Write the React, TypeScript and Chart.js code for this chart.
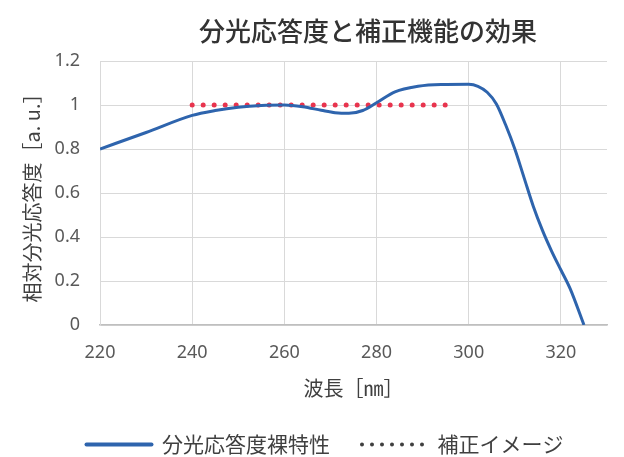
import React, { useEffect, useRef } from "react";
import { Chart, registerables } from "chart.js";

Chart.register(...registerables);

const chartTitle = "分光応答度と補正機能の効果";
const xAxisTitle = "波長［㎚］";
const yAxisTitle = "相対分光応答度［a. u.］";
const seriesNames = ["分光応答度裸特性", "補正イメージ"];

const wavelengths = [220, 230, 240, 245, 250, 255, 260, 264, 268, 271, 274, 277, 280, 284, 289, 294, 300, 302, 304, 306, 308, 310, 312, 314, 316, 318, 320, 322, 325];
const response = [0.8, 0.875, 0.953, 0.975, 0.99, 0.998, 1.0, 0.992, 0.976, 0.965, 0.962, 0.975, 1.01, 1.06, 1.085, 1.093, 1.094, 1.085, 1.058, 1.005, 0.91, 0.8, 0.67, 0.54, 0.43, 0.335, 0.25, 0.165, 0.0];

const correctedWavelengths = [240, 295];
const correctedValues = [1, 1];

const xTicks = [220, 240, 260, 280, 300, 320];
const yTicks = [0, 0.2, 0.4, 0.6, 0.8, 1, 1.2];

const CJK = '"Noto Sans CJK JP", "Noto Sans", sans-serif';
const LATIN = '"Noto Sans", "Noto Sans CJK JP", sans-serif';

const titlePlugin = {
  id: "customTitle",
  afterDraw(chart: any) {
    const ctx = chart.ctx;
    ctx.save();
    ctx.font = `500 26px ${CJK}`;
    ctx.fillStyle = "#333333";
    ctx.textAlign = "center";
    ctx.textBaseline = "middle";
    ctx.fillText(chartTitle, 368, 31);
    ctx.restore();
  },
};

export default function App() {
  const canvasRef = useRef<HTMLCanvasElement | null>(null);

  useEffect(() => {
    if (!canvasRef.current) return;
    const chart = new Chart(canvasRef.current, {
      type: "line",
      data: {
        datasets: [
          {
            label: seriesNames[0],
            data: wavelengths.map((x, i) => ({ x, y: response[i] })),
            borderColor: "#2e64ad",
            borderWidth: 3,
            pointRadius: 0,
            tension: 0.4,
            cubicInterpolationMode: "monotone",
            fill: false,
          },
          {
            label: seriesNames[1],
            data: correctedWavelengths.map((x, i) => ({ x, y: correctedValues[i] })),
            borderColor: "#e8344e",
            borderWidth: 5,
            borderDash: [0, 11],
            borderCapStyle: "round",
            pointRadius: 0,
            fill: false,
          },
        ],
      },
      options: {
        responsive: false,
        animation: false,
        layout: { padding: { left: 43, right: 17, top: 61, bottom: -8 } },
        plugins: {
          title: { display: false },
          tooltip: { enabled: false },
          legend: {
            display: true,
            position: "bottom",
            labels: {
              usePointStyle: true,
              pointStyle: "line",
              pointStyleWidth: 65,
              padding: 32,
              color: "#404040",
              font: { family: CJK, size: 21 },
              generateLabels(c: any) {
                const items = Chart.defaults.plugins.legend.labels.generateLabels(c);
                items[0].strokeStyle = "#2e64ad";
                items[0].lineWidth = 4;
                items[0].lineCap = "round";
                items[0].pointStyle = "line";
                items[1].strokeStyle = "#404040";
                items[1].lineWidth = 4;
                items[1].lineDash = [0, 10];
                items[1].lineCap = "round";
                items[1].pointStyle = "line";
                return items;
              },
            },
          },
        },
        scales: {
          x: {
            type: "linear",
            min: 220,
            max: 330,
            afterBuildTicks(scale: any) {
              scale.ticks = xTicks.map((v) => ({ value: v }));
            },
            afterFit(scale: any) {
              scale.height = 77;
            },
            ticks: {
              padding: 17,
              color: "#595959",
              font: { family: LATIN, size: 18 },
              callback: (v: any) => String(v),
            },
            grid: { color: "#d9d9d9", lineWidth: 1, drawTicks: false },
            border: { color: "#bfbfbf", width: 1.5 },
            title: {
              display: true,
              text: xAxisTitle,
              color: "#404040",
              font: { family: CJK, size: 20 },
              padding: { top: 0, bottom: 2 },
            },
          },
          y: {
            type: "linear",
            min: 0,
            max: 1.2,
            afterBuildTicks(scale: any) {
              scale.ticks = yTicks.map((v) => ({ value: v }));
            },
            afterFit(scale: any) {
              scale.width = 57;
            },
            ticks: {
              padding: 20,
              color: "#595959",
              font: { family: LATIN, size: 18 },
              callback: (v: any) => String(Math.round(v * 10) / 10),
            },
            grid: { color: "#d9d9d9", lineWidth: 1, drawTicks: false },
            border: { color: "#d9d9d9", width: 1 },
            title: {
              display: true,
              text: yAxisTitle,
              color: "#404040",
              font: { family: CJK, size: 20 },
              padding: { top: -23, bottom: 0 },
            },
          },
        },
      },
      plugins: [titlePlugin],
    } as any);
    return () => chart.destroy();
  }, []);

  return (
    <div style={{ position: "absolute", left: 0, top: 0, width: 624, height: 457, background: "#ffffff" }}>
      <canvas ref={canvasRef} width={624} height={457} />
    </div>
  );
}
